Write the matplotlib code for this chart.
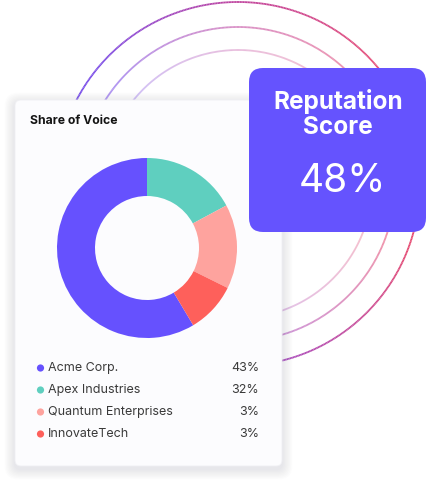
import numpy as np
import matplotlib
matplotlib.use("Agg")
import matplotlib.pyplot as plt
from matplotlib.collections import LineCollection
from matplotlib.patches import FancyBboxPatch, Circle
from matplotlib.colors import to_rgb

plt.rcParams['font.family'] = ['Inter', 'DejaVu Sans']

# data
companies = ["Acme Corp.", "Apex Industries", "Quantum Enterprises", "InnovateTech"]
legend_pct = [43, 32, 3, 3]
donut_share = [58, 17, 15, 9]   # slice sizes as drawn in the ring
slice_colors = ["#6651fe", "#5fcfbf", "#fea39e", "#fe605b"]
score = 48

W, H = 427, 483
fig = plt.figure(figsize=(W / 100, H / 100), dpi=100)
ax = fig.add_axes([0, 0, 1, 1])
ax.set_xlim(0, W)
ax.set_ylim(H, 0)
ax.axis("off")

# gradient rings behind everything
ring_cx, ring_cy = 238, 184
ring_r = [182, 157, 134]
ring_alpha = [1.0, 0.6, 0.35]
stops_deg = [-180, -90, -20, 0, 40, 90, 140, 180]
stops_col = ["#6a4cf0", "#9a4cd2", "#e5476f", "#e9476b", "#e64a74", "#c0449e", "#7a4ae6", "#6a4cf0"]
stops_rgb = np.array([to_rgb(c) for c in stops_col])


def ring_color(deg):
    return np.array([np.interp(deg, stops_deg, stops_rgb[:, k]) for k in range(3)]).T


th = np.linspace(-np.pi, np.pi, 721)
for r, a in zip(ring_r, ring_alpha):
    xs = ring_cx + r * np.cos(th)
    ys = ring_cy - r * np.sin(th)
    pts = np.array([xs, ys]).T.reshape(-1, 1, 2)
    segs = np.concatenate([pts[:-1], pts[1:]], axis=1)
    mid = np.degrees((th[:-1] + th[1:]) / 2)
    cols = np.column_stack([ring_color(mid), np.full(len(mid), a)])
    ax.add_collection(LineCollection(segs, colors=cols, linewidths=1.3, zorder=1))

# card with soft shadow
cx0, cy0, cx1, cy1 = 15, 100, 282, 466
for i in range(8, 0, -1):
    sh = FancyBboxPatch((cx0, cy0 + 3), cx1 - cx0, cy1 - cy0,
                        boxstyle=f"round,pad={i * 1.3},rounding_size={6 + i}",
                        fc="#8a8aa0", ec="none", alpha=0.025, zorder=2)
    ax.add_patch(sh)
card = FancyBboxPatch((cx0, cy0), cx1 - cx0, cy1 - cy0,
                      boxstyle="round,pad=0,rounding_size=6",
                      fc="#fcfcfe", ec="#f0f0f4", lw=0.6, zorder=3)
ax.add_patch(card)

ax.text(30, 121, "Share of Voice", fontsize=8.8, fontweight="bold",
        color="#141414", va="center", ha="left", zorder=5)

# legend rows
row_y = [368, 390, 412, 434]
for name, pct, col, y in zip(companies, legend_pct, slice_colors, row_y):
    ax.add_patch(Circle((40.5, y), 3.6, fc=col, ec="none", zorder=5))
    ax.text(48, y, name, fontsize=9, color="#3a3a3a", va="center", ha="left", zorder=5)
    ax.text(259, y, f"{pct}%", fontsize=9, color="#3a3a3a", va="center", ha="right", zorder=5)

# score box
bx0, by0, bx1, by1 = 249, 68, 426, 232
box = FancyBboxPatch((bx0, by0), bx1 - bx0, by1 - by0,
                     boxstyle="round,pad=0,rounding_size=14",
                     fc="#6553fe", ec="none", zorder=6)
ax.add_patch(box)
ax.text(338, 102, "Reputation", fontsize=17.5, fontweight="bold", color="white",
        ha="center", va="center", zorder=7)
ax.text(338, 127, "Score", fontsize=17.5, fontweight="bold", color="white",
        ha="center", va="center", zorder=7)
ax.text(342, 181, f"{score}%", fontsize=28, color="white",
        ha="center", va="center", zorder=7)

# donut in its own axes: first slice ends at the top, the rest run clockwise
dcx, dcy, dr, dr_in = 147, 248, 90, 52
ax2 = fig.add_axes([(dcx - dr) / W, (H - dcy - dr) / H, 2 * dr / W, 2 * dr / H])
start = 90 + 360 * donut_share[0] / sum(donut_share)
ax2.pie(donut_share, colors=slice_colors, startangle=start, counterclock=False,
        radius=1, wedgeprops=dict(width=(dr - dr_in) / dr, edgecolor="none"))
ax2.set_xlim(-1, 1)
ax2.set_ylim(-1, 1)
ax2.axis("off")

fig.savefig("out.png", dpi=100)
